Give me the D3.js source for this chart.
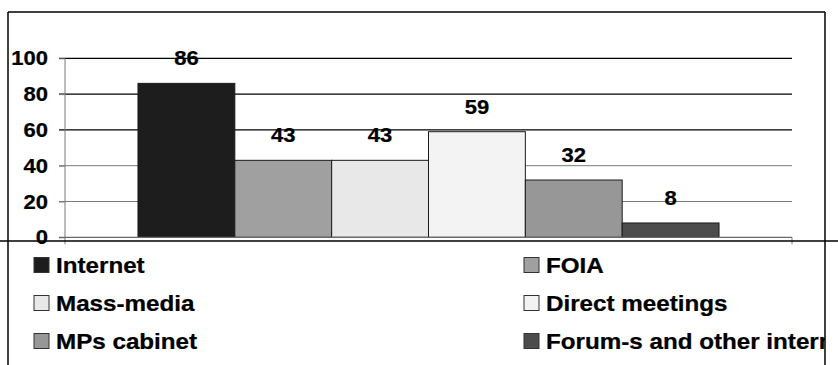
<!DOCTYPE html>
<html>
<head>
<meta charset="utf-8">
<script src="https://cdn.jsdelivr.net/npm/d3@7"></script>
<style>
  html, body { margin: 0; padding: 0; background: #fff; }
  svg { display: block; }
  text { font-family: "Liberation Sans", Arial, sans-serif; font-weight: bold; fill: #000; }
</style>
</head>
<body>
<svg id="chart" width="838" height="365"></svg>
<script>
// Sources of information (percent of respondents)
const categories = ["Internet", "FOIA", "Mass-media", "Direct meetings", "MPs cabinet", "Forum-s and other internet resources"];
const values = [86, 43, 43, 59, 32, 8];
const colors = ["#1d1d1d", "#a0a0a0", "#e8e8e8", "#f3f3f3", "#979797", "#4c4c4c"];
const yTicks = [0, 20, 40, 60, 80, 100];

const W = 838, H = 365;
const svg = d3.select("#chart");
const sx = 1.1; // horizontal stretch of the lettering

// frame
const frame = { left: 8, top: 12, right: 825, split: 241 };

// plot area
const plot = { left: 65, right: 792, top: 58.3, bottom: 237.3 };

const y = d3.scaleLinear().domain([0, 100]).range([plot.bottom, plot.top]);
const x0 = d3.scaleBand().domain(["all"]).range([plot.left, plot.right])
  .paddingInner(0).paddingOuter(0.1256);
const x1 = d3.scaleBand().domain(categories).range([0, x0.bandwidth()]).padding(0);

function stretchedText(g, tx, ty, str, size, anchor) {
  return g.append("text")
    .attr("transform", `translate(${tx},${ty}) scale(${sx},1)`)
    .attr("text-anchor", anchor)
    .attr("font-size", size)
    .attr("stroke", "#000").attr("stroke-width", 0.25)
    .text(str);
}

// gridlines
svg.append("g").selectAll("line").data(yTicks.filter(d => d > 0)).join("line")
  .attr("x1", plot.left - 6).attr("x2", plot.right)
  .attr("y1", d => y(d)).attr("y2", d => y(d))
  .attr("stroke", d => d >= 60 ? "#000" : "#7a7a7a")
  .attr("stroke-width", d => d >= 60 ? 1.2 : 1);

// y axis
const yAxisG = svg.append("g").attr("transform", `translate(${plot.left},0)`)
  .call(d3.axisLeft(y).tickValues(yTicks).tickSize(6).tickFormat(""));
yAxisG.select(".domain").remove();
yAxisG.selectAll(".tick line").attr("stroke", "#7a7a7a");
yAxisG.append("line").attr("x1", 0).attr("x2", 0)
  .attr("y1", plot.top).attr("y2", plot.bottom + 7).attr("stroke", "#7a7a7a");

const tickLabels = svg.append("g");
yTicks.forEach(t => stretchedText(tickLabels, 48, y(t) + 7, String(t), 20, "end"));

// bars
const bars = svg.append("g").attr("transform", `translate(${x0("all")},0)`);
bars.selectAll("rect").data(values).join("rect")
  .attr("x", (d, i) => x1(categories[i]))
  .attr("y", d => y(d))
  .attr("width", x1.bandwidth())
  .attr("height", d => y(0) - y(d))
  .attr("fill", (d, i) => colors[i])
  .attr("stroke", "#1a1a1a")
  .attr("stroke-width", 1);

// value labels
const vlab = svg.append("g");
values.forEach((v, i) => {
  const cx = x0("all") + x1(categories[i]) + x1.bandwidth() / 2;
  stretchedText(vlab, cx, y(v) - 18, String(v), 20, "middle");
});

// x axis
svg.append("line").attr("x1", plot.left - 6).attr("x2", plot.right)
  .attr("y1", y(0)).attr("y2", y(0)).attr("stroke", "#6a6a6a").attr("stroke-width", 1.3);
svg.append("line").attr("x1", plot.right).attr("x2", plot.right)
  .attr("y1", y(0)).attr("y2", y(0) + 7).attr("stroke", "#7a7a7a");

// frame lines
const fr = svg.append("g").attr("stroke", "#000").attr("stroke-width", 1.5);
fr.append("line").attr("x1", frame.left).attr("x2", frame.right).attr("y1", frame.top).attr("y2", frame.top);
fr.append("line").attr("x1", frame.left).attr("x2", frame.left).attr("y1", frame.top).attr("y2", H);
fr.append("line").attr("x1", frame.right).attr("x2", frame.right).attr("y1", frame.top).attr("y2", H);
fr.append("line").attr("x1", 0).attr("x2", W).attr("y1", frame.split).attr("y2", frame.split);

// legend, cut at the right frame line
svg.append("clipPath").attr("id", "legclip")
  .append("rect").attr("x", frame.left).attr("y", frame.split).attr("width", frame.right - frame.left).attr("height", H - frame.split);
const legend = svg.append("g").attr("clip-path", "url(#legclip)");
const colX = [34, 524];
const rowY = [265, 303, 341];
categories.forEach((c, i) => {
  const lx = colX[i % 2], ly = rowY[Math.floor(i / 2)];
  legend.append("rect").attr("x", lx).attr("y", ly - 7.5).attr("width", 15).attr("height", 15)
    .attr("fill", colors[i]).attr("stroke", "#333").attr("stroke-width", 1);
  stretchedText(legend, lx + 22, ly + 7.5, c, 22, "start");
});
</script>
</body>
</html>
